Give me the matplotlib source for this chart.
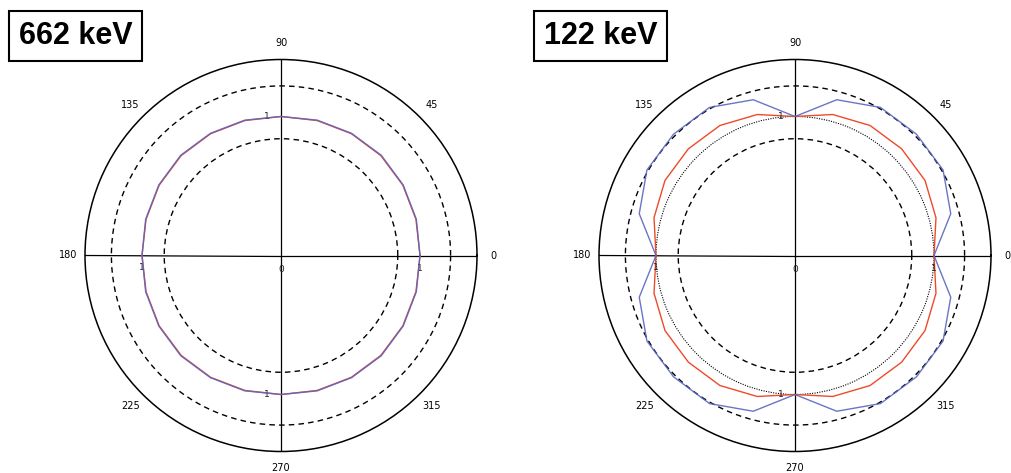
"""Angular response of a detector at 662 keV and 122 keV, drawn as two polar plots."""

# -- Imports -----------------------------------------------------------------
import matplotlib
matplotlib.use('Agg')
import matplotlib.pyplot as plt
import numpy as np


# -- Data --------------------------------------------------------------------

# measurement angles (deg), 15 degree steps, closed polygon
angles_deg = np.arange(0, 361, 15)

# relative response in one quadrant, offsets 0, 15, 30, 45, 60, 75 deg from an axis
quad_662_blue = [1.0, 1.008, 1.015, 1.02, 1.015, 1.008]
quad_662_red = [1.0, 1.005, 1.012, 1.016, 1.012, 1.005]
quad_122_blue = [1.0, 1.16, 1.23, 1.235, 1.23, 1.16]
quad_122_red = [1.0, 1.05, 1.08, 1.085, 1.08, 1.05]

theta_ticks = [0, 45, 90, 135, 180, 225, 270, 315]
theta_labels = ['0', '45', '90', '135', '180', '225', '270', '315']

titles = ['662 keV', '122 keV']

r_max = 1.41
dashed_r = [0.84, 1.22]

blue = '#5a66c0'
red = '#ee4a2a'


def full_turn(quad):
    """ Repeat a quadrant four times and close the polygon. """
    vals = list(quad) * 4
    return np.array(vals + [vals[0]])


# -- Plot helper ---------------------------------------------------------------

def polar_panel(fig, rect, blue_r, red_r, dotted=False):
    ax = fig.add_axes(rect, projection='polar')
    th = np.deg2rad(angles_deg)

    ax.set_ylim(0, r_max)
    ax.set_yticks([])
    ax.set_xticks(np.deg2rad(theta_ticks))
    ax.set_xticklabels(theta_labels)
    ax.grid(False)
    ax.spines['polar'].set_linewidth(1.1)
    ax.tick_params(axis='x', labelsize=7, pad=3, direction='inout',
                   length=4, width=0.7, colors='black')

    # cross hair through the centre
    for a in [0, 90, 180, 270]:
        ax.axvline(np.deg2rad(a), color='black', lw=0.9, zorder=1)

    # dashed reference circles
    for r in dashed_r:
        ax.axhline(r, color='black', lw=1.0, ls=(0, (4, 3)), zorder=1)

    if dotted:
        ax.axhline(1.0, color='black', lw=0.8, ls=(0, (1, 1.2)), zorder=2)

    ax.plot(th, red_r, color=red, lw=1.0, zorder=3)
    ax.plot(th, blue_r, color=blue, lw=1.0, alpha=0.9, zorder=4)

    # radial labels
    ax.annotate('0', (0, 0), xytext=(0, -10), textcoords='offset points',
                ha='center', va='center', fontsize=6.5, color='#222222')
    for a, off in [(0, (0, -9)), (180, (0, -9)), (90, (-10, 0)), (270, (-10, 0))]:
        ax.annotate('1', (np.deg2rad(a), 1.0), xytext=off,
                    textcoords='offset points', ha='center', va='center',
                    fontsize=6.5, color='#222222')
    return ax


# -- Figure ------------------------------------------------------------------

fig = plt.figure(figsize=(10.11, 4.73), dpi=100)
W, H = 1011, 473
size = 392

panels = [
    (281, 255.5, full_turn(quad_662_blue), full_turn(quad_662_red), False),
    (795, 255.5, full_turn(quad_122_blue), full_turn(quad_122_red), True),
]
for cx, cy, b_r, r_r, dot in panels:
    rect = [(cx - size / 2) / W, (H - cy - size / 2) / H, size / W, size / H]
    polar_panel(fig, rect, b_r, r_r, dotted=dot)

# title boxes
box_centres = [(75.5, 36), (600.5, 36)]
for (bx, by), t in zip(box_centres, titles):
    fig.text(bx / W, 1 - by / H, t, ha='center', va='center',
             fontsize=22, fontweight='bold',
             family=['Liberation Sans Narrow', 'Liberation Sans', 'DejaVu Sans'],
             bbox=dict(boxstyle='square,pad=0.32', facecolor='white',
                       edgecolor='black', lw=1.5))

fig.savefig('out.png', dpi=100, facecolor='white')
